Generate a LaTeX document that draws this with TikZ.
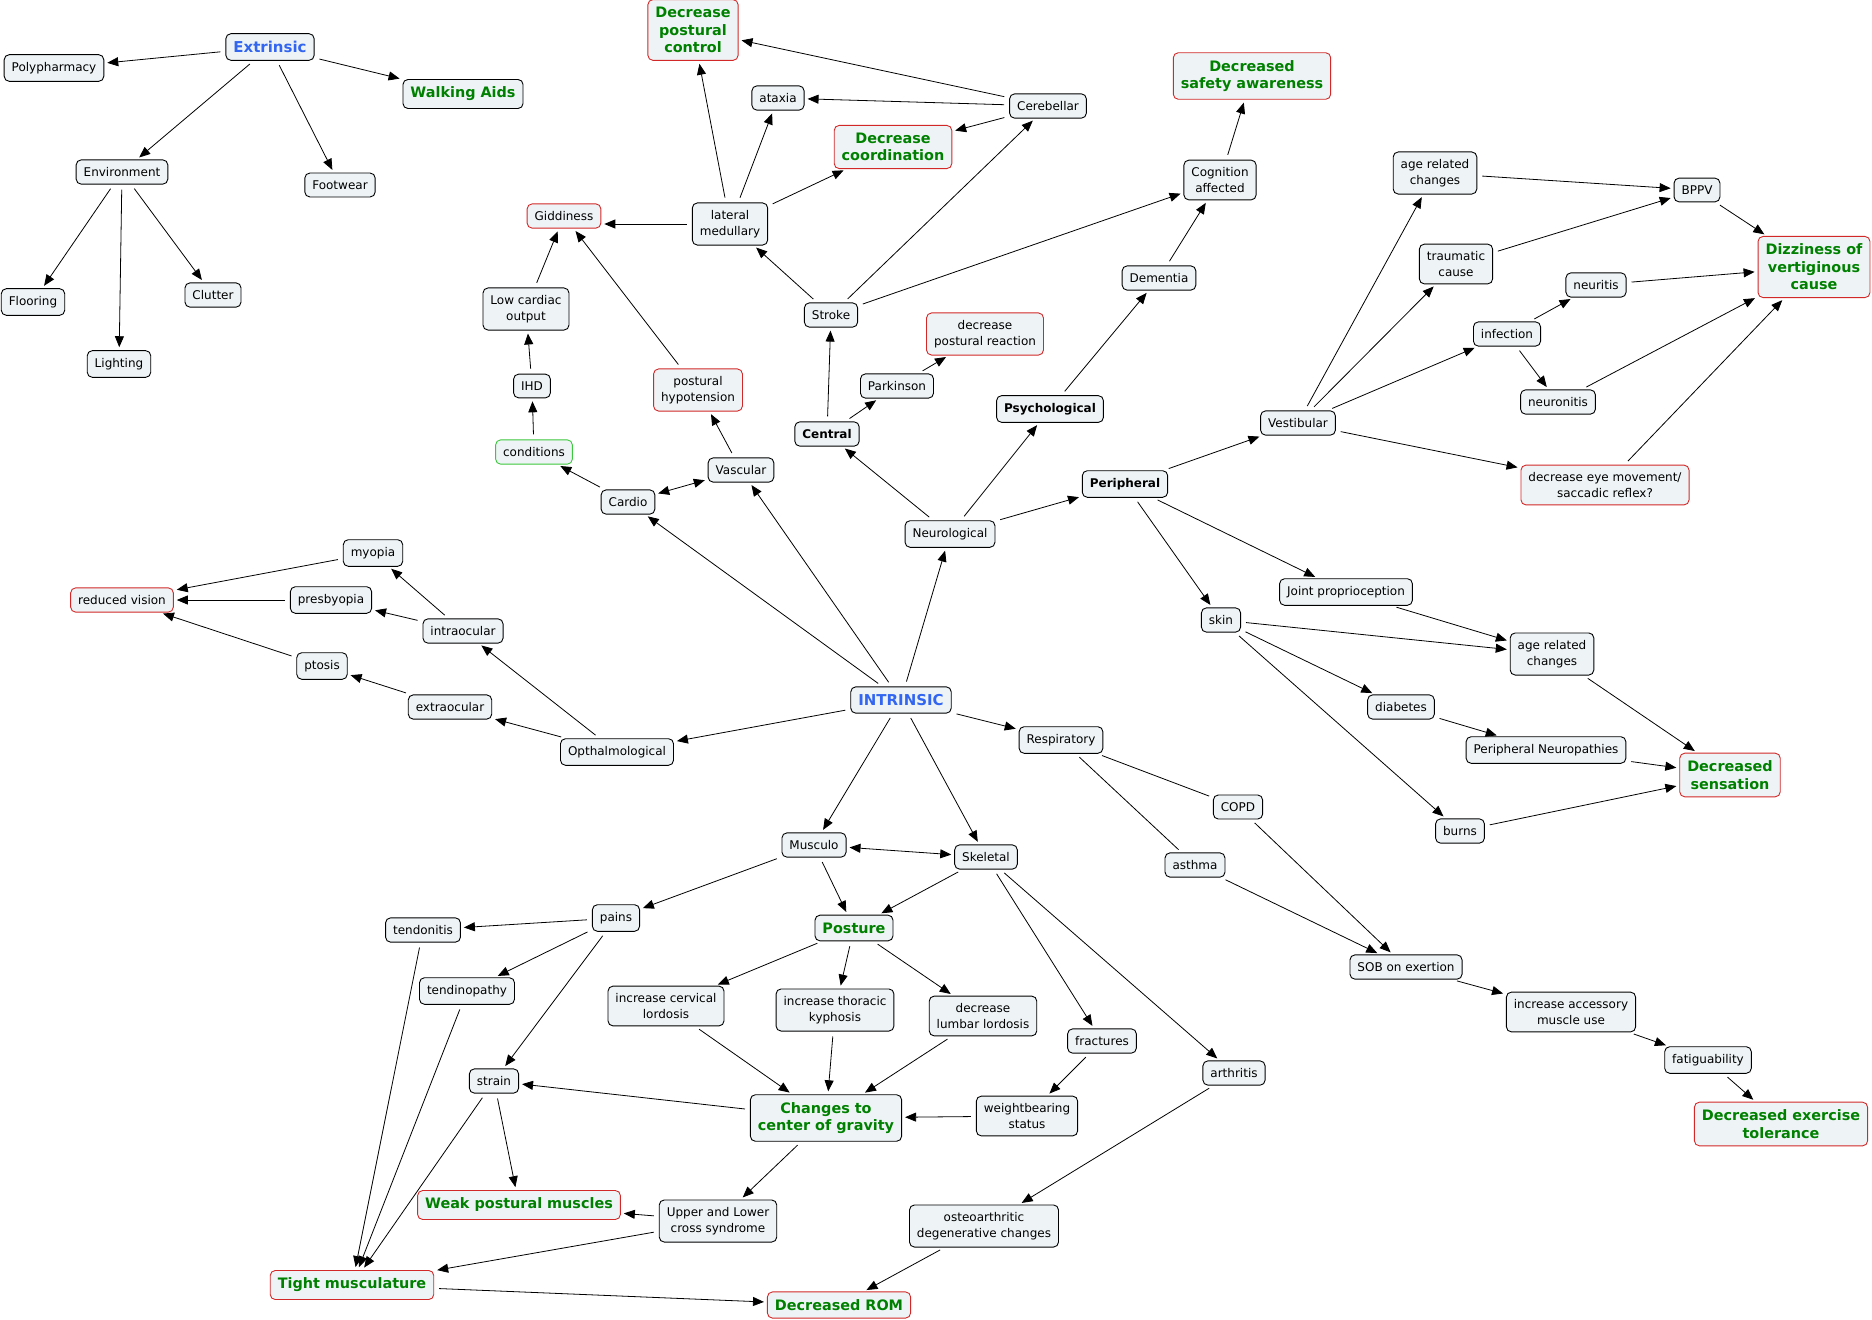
\documentclass[tikz,border=0pt]{standalone}
\usepackage{fontspec}
\setmainfont{DejaVu Sans}
\usetikzlibrary{arrows.meta}
\definecolor{nfill}{RGB}{238,244,246}
\definecolor{outred}{RGB}{210,40,40}
\definecolor{okgreen}{RGB}{0,128,0}
\definecolor{topblue}{RGB}{51,102,240}
\definecolor{condgreen}{RGB}{60,200,60}
\tikzset{
  cn/.style={draw=black, fill=nfill, rounded corners=5pt, line width=0.9pt,
    inner xsep=7.5pt, inner ysep=7.5pt, align=center,
    font=\fontsize{12}{15.5}\selectfont},
  rn/.style={cn, draw=outred},
  gn/.style={cn, draw=outred, text=okgreen, font=\fontsize{14.4}{17.5}\selectfont\bfseries},
  gk/.style={cn, text=okgreen, font=\fontsize{14.4}{17.5}\selectfont\bfseries},
  bn/.style={cn, text=topblue, font=\fontsize{15}{18}\selectfont\bfseries},
  kb/.style={cn, font=\fontsize{12}{15.5}\selectfont\bfseries},
  cg/.style={cn, draw=condgreen},
  arr/.style={-{Triangle[length=11pt,width=9pt]}, line width=0.8pt, shorten >=3pt, shorten <=5pt},
  dbl/.style={{Triangle[length=11pt,width=9pt]}-{Triangle[length=11pt,width=9pt]}, line width=0.8pt, shorten >=3pt, shorten <=3pt},
  ln/.style={line width=0.8pt, shorten >=4pt, shorten <=5pt},
}
\begin{document}
\begin{tikzpicture}[x=1pt,y=-1pt]
\useasboundingbox (0,0) rectangle (1872,1320);
% Extrinsic
\node[bn] (ext) at (270,47) {Extrinsic};
\node[cn] (poly) at (54,68) {Polypharmacy};
\node[gk] (walk) at (463,94) {Walking Aids};
\node[cn] (env) at (122,172) {Environment};
\node[cn] (foot) at (340,185) {Footwear};
\node[cn] (floor) at (33,302) {Flooring};
\node[cn] (clut) at (213,295) {Clutter};
\node[cn] (light) at (119,364) {Lighting};
% cardio/vascular
\node[rn] (gidd) at (564,216) {Giddiness};
\node[cn] (lco) at (526,309) {Low cardiac\\output};
\node[cn] (ihd) at (532,386) {IHD};
\node[cg] (cond) at (534,452) {conditions};
\node[rn] (phyp) at (698,390) {postural\\hypotension};
\node[cn] (vasc) at (741,470) {Vascular};
\node[cn] (card) at (628,502) {Cardio};
% neuro central
\node[gn] (dpc) at (693,30) {Decrease\\postural\\control};
\node[cn] (atax) at (778,98) {ataxia};
\node[cn] (cereb) at (1048,106) {Cerebellar};
\node[gn] (dcoord) at (893,147) {Decrease\\coordination};
\node[cn] (latm) at (730,224) {lateral\\medullary};
\node[cn] (stroke) at (831,315) {Stroke};
\node[rn] (dpr) at (985,334) {decrease\\postural reaction};
\node[cn] (park) at (897,386) {Parkinson};
\node[kb] (central) at (827,434) {Central};
\node[kb] (psych) at (1050,409) {Psychological};
\node[cn] (neuro) at (950,534) {Neurological};
\node[kb] (periph) at (1125,484) {Peripheral};
\node[cn] (dement) at (1159,278) {Dementia};
\node[cn] (cog) at (1220,180) {Cognition\\affected};
\node[gn] (dsa) at (1252,76) {Decreased\\safety awareness};
% vestibular
\node[cn] (arc1) at (1435,173) {age related\\changes};
\node[cn] (bppv) at (1697,190) {BPPV};
\node[cn] (trau) at (1456,264) {traumatic\\cause};
\node[gn] (dizz) at (1814,267) {Dizziness of\\vertiginous\\cause};
\node[cn] (neurit) at (1596,285) {neuritis};
\node[cn] (infec) at (1507,334) {infection};
\node[cn] (neuron) at (1558,402) {neuronitis};
\node[cn] (vest) at (1298,423) {Vestibular};
\node[rn] (deye) at (1605,485) {decrease eye movement/\\saccadic reflex?};
% ophthalmological
\node[cn] (myop) at (373,553) {myopia};
\node[rn] (rvis) at (122,600) {reduced vision};
\node[cn] (presb) at (331,600) {presbyopia};
\node[cn] (intra) at (463,631) {intraocular};
\node[cn] (ptos) at (322,666) {ptosis};
\node[cn] (extra) at (450,707) {extraocular};
\node[cn] (opth) at (617,752) {Opthalmological};
% intrinsic
\node[bn] (intr) at (901,700) {INTRINSIC};
\node[cn] (resp) at (1061,740) {Respiratory};
% peripheral sensation
\node[cn] (joint) at (1346,592) {Joint proprioception};
\node[cn] (skin) at (1221,620) {skin};
\node[cn] (arc2) at (1552,654) {age related\\changes};
\node[cn] (diab) at (1401,707) {diabetes};
\node[cn] (pneur) at (1546,750) {Peripheral Neuropathies};
\node[gn] (dsens) at (1730,775) {Decreased\\sensation};
\node[cn] (burns) at (1460,831) {burns};
% respiratory
\node[cn] (copd) at (1238,807) {COPD};
\node[cn] (asth) at (1195,865) {asthma};
\node[cn] (sob) at (1406,967) {SOB on exertion};
\node[cn] (iam) at (1571,1012) {increase accessory\\muscle use};
\node[cn] (fatig) at (1708,1060) {fatiguability};
\node[gn] (det) at (1781,1124) {Decreased exercise\\tolerance};
% musculoskeletal
\node[cn] (musc) at (814,845) {Musculo};
\node[cn] (skel) at (986,857) {Skeletal};
\node[cn] (pains) at (616,918) {pains};
\node[cn] (tendi) at (423,930) {tendonitis};
\node[gk] (post) at (854,928) {Posture};
\node[cn] (tendp) at (467,991) {tendinopathy};
\node[cn] (icl) at (666,1006) {increase cervical\\lordosis};
\node[cn] (itk) at (835,1010) {increase thoracic\\kyphosis};
\node[cn] (dll) at (983,1016) {decrease\\lumbar lordosis};
\node[cn] (fract) at (1102,1041) {fractures};
\node[cn] (arth) at (1234,1073) {arthritis};
\node[cn] (strain) at (494,1081) {strain};
\node[gk] (ccog) at (826,1118) {Changes to\\center of gravity};
\node[cn] (wbs) at (1027,1116) {weightbearing\\status};
\node[gn] (wpm) at (519,1205) {Weak postural muscles};
\node[cn] (ulcs) at (718,1221) {Upper and Lower\\cross syndrome};
\node[cn] (oa) at (984,1226) {osteoarthritic\\degenerative changes};
\node[gn] (tight) at (352,1285) {Tight musculature};
\node[gn] (drom) at (839,1305) {Decreased ROM};
% ---- connectors
\draw[arr] (ext) -- (poly);
\draw[arr] (ext) -- (walk);
\draw[arr] (ext) -- (env);
\draw[arr] (ext) -- (foot);
\draw[arr] (env) -- (floor);
\draw[arr] (env) -- (light);
\draw[arr] (env) -- (clut);
\draw[arr] (latm.west) -- (gidd.east |- latm.west);
\draw[arr] (latm) -- (dpc);
\draw[arr] (latm) -- (atax);
\draw[arr] (latm) -- (dcoord);
\draw[arr] (lco) -- (gidd);
\draw[arr] (phyp) -- (gidd);
\draw[arr] (ihd) -- (lco);
\draw[arr] (cond) -- (ihd);
\draw[arr] (card) -- (cond);
\draw[dbl] (card) -- (vasc);
\draw[arr] (vasc) -- (phyp);
\draw[arr] (intr) -- (card);
\draw[arr] (intr) -- (vasc);
\draw[arr] (intr) -- (neuro);
\draw[arr] (intr) -- (opth);
\draw[arr] (intr) -- (resp);
\draw[arr] (intr) -- (musc);
\draw[arr] (intr) -- (skel);
\draw[arr] (cereb) -- (dpc);
\draw[arr] (cereb) -- (atax);
\draw[arr] (cereb) -- (dcoord);
\draw[arr] (stroke) -- (latm);
\draw[arr] (stroke) -- (cereb);
\draw[arr] (stroke) -- (cog);
\draw[arr] (central) -- (stroke);
\draw[arr] (central) -- (park);
\draw[arr] (park) -- (dpr);
\draw[arr] (neuro) -- (central);
\draw[arr] (neuro) -- (psych);
\draw[arr] (neuro) -- (periph);
\draw[arr] (psych) -- (dement);
\draw[arr] (dement) -- (cog);
\draw[arr] (cog) -- (dsa);
\draw[arr] (periph) -- (vest);
\draw[arr] (periph) -- (skin);
\draw[arr] (periph) -- (joint);
\draw[arr] (vest) -- (arc1);
\draw[arr] (vest) -- (trau);
\draw[arr] (vest) -- (infec);
\draw[arr] (vest) -- (deye);
\draw[arr] (arc1) -- (bppv);
\draw[arr] (trau) -- (bppv);
\draw[arr] (bppv) -- (dizz);
\draw[arr] (neurit) -- (dizz);
\draw[arr] (neuron) -- (dizz);
\draw[arr] (deye) -- (dizz);
\draw[arr] (infec) -- (neurit);
\draw[arr] (infec) -- (neuron);
\draw[arr] (opth) -- (extra);
\draw[arr] (opth) -- (intra);
\draw[arr] (intra) -- (myop);
\draw[arr] (intra) -- (presb);
\draw[arr] (extra) -- (ptos);
\draw[arr] (myop) -- (rvis);
\draw[arr] (presb) -- (rvis);
\draw[arr] (ptos) -- (rvis);
\draw[arr] (joint) -- (arc2);
\draw[arr] (skin) -- (arc2);
\draw[arr] (skin) -- (diab);
\draw[arr] (skin) -- (burns);
\draw[arr] (diab) -- (pneur);
\draw[arr] (arc2) -- (dsens);
\draw[arr] (pneur) -- (dsens);
\draw[arr] (burns) -- (dsens);
\draw[ln] (resp) -- (copd);
\draw[ln] (resp) -- (asth);
\draw[arr] (copd) -- (sob);
\draw[arr] (asth) -- (sob);
\draw[arr] (sob) -- (iam);
\draw[arr] (iam) -- (fatig);
\draw[arr] (fatig) -- (det);
\draw[dbl] (musc) -- (skel);
\draw[arr] (musc) -- (pains);
\draw[arr] (musc) -- (post);
\draw[arr] (skel) -- (post);
\draw[arr] (skel) -- (fract);
\draw[arr] (skel) -- (arth);
\draw[arr] (pains) -- (tendi);
\draw[arr] (pains) -- (tendp);
\draw[arr] (pains) -- (strain);
\draw[arr] (post) -- (icl);
\draw[arr] (post) -- (itk);
\draw[arr] (post) -- (dll);
\draw[arr] (icl) -- (ccog);
\draw[arr] (itk) -- (ccog);
\draw[arr] (dll) -- (ccog);
\draw[arr] (fract) -- (wbs);
\draw[arr] (wbs) -- (ccog);
\draw[arr] (ccog) -- (strain);
\draw[arr] (ccog) -- (ulcs);
\draw[arr] (strain) -- (wpm);
\draw[arr] (strain) -- (tight);
\draw[arr] (tendi) -- (tight);
\draw[arr] (tendp) -- (tight);
\draw[arr] (ulcs) -- (wpm);
\draw[arr] (ulcs) -- (tight);
\draw[arr] (arth) -- (oa);
\draw[arr] (oa) -- (drom);
\draw[arr] (tight) -- (drom);
\end{tikzpicture}
\end{document}
